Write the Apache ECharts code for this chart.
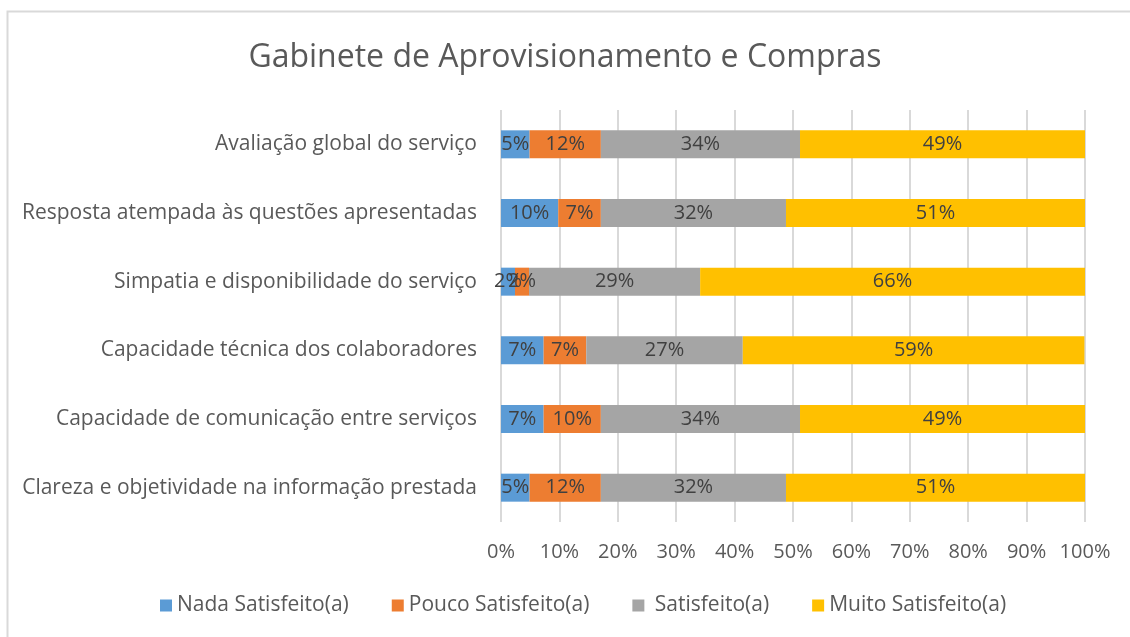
<!DOCTYPE html>
<html>
<head>
<meta charset="utf-8">
<style>
    html, body { margin: 0; padding: 0; background: #fff; }
    #chart { width: 1130px; height: 637px; }
</style>
<script src="https://cdn.jsdelivr.net/npm/echarts@6/dist/echarts.min.js"></script>
</head>
<body>
<div id="chart"></div>
<script>
    // categorias (de baixo para cima no eixo)
    var categorias = [
        'Clareza e objetividade na informação prestada',
        'Capacidade de comunicação entre serviços',
        'Capacidade técnica dos colaboradores',
        'Simpatia e disponibilidade do serviço',
        'Resposta atempada às questões apresentadas',
        'Avaliação global do serviço'
    ];
    var nadaSatisfeito  = [4.9, 7.3, 7.3, 2.4, 9.8, 4.9];
    var poucoSatisfeito = [12.2, 9.8, 7.3, 2.4, 7.3, 12.2];
    var satisfeito      = [31.7, 34.1, 26.8, 29.3, 31.7, 34.1];
    var muitoSatisfeito = [51.2, 48.8, 58.5, 65.9, 51.2, 48.8];
    var ticks = [0, 10, 20, 30, 40, 50, 60, 70, 80, 90, 100];

    var fonte = '"Open Sans", "Liberation Sans", sans-serif';
    var cores = ['#5b9bd5', '#ed7d31', '#a5a5a5', '#ffc000'];

    function serie(nome, dados, cor) {
        return {
            name: nome,
            type: 'bar',
            stack: 'total',
            barWidth: 28,
            data: dados,
            itemStyle: { color: cor },
            label: {
                show: true,
                position: 'inside',
                color: '#404040',
                fontFamily: fonte,
                fontSize: 20,
                formatter: function (p) { return Math.round(p.value) + '%'; }
            }
        };
    }

    var chart = echarts.init(document.getElementById('chart'));
    var option = {
        animation: false,
        backgroundColor: '#fff',
        title: {
            text: 'Gabinete de Aprovisionamento e Compras',
            left: 'center',
            top: 37,
            textStyle: {
                color: '#595959',
                fontFamily: fonte,
                fontWeight: 'normal',
                fontSize: 32
            }
        },
        graphic: [{
            type: 'polyline',
            shape: { points: [[7.5, 637], [7.5, 11.5], [1130, 11.5]] },
            style: { stroke: '#d9d9d9', lineWidth: 2, fill: null },
            silent: true
        }],
        legend: {
            bottom: 16,
            left: 155,
            itemWidth: 12,
            itemHeight: 12,
            itemGap: 43,
            icon: 'rect',
            textStyle: { color: '#595959', fontFamily: fonte, fontSize: 21 },
            formatter: function (n) { return n === 'Satisfeito(a)' ? ' ' + n : n; },
            data: ['Nada Satisfeito(a)', 'Pouco Satisfeito(a)', 'Satisfeito(a)', 'Muito Satisfeito(a)']
        },
        grid: {
            left: 501,
            right: 45,
            top: 110,
            bottom: 115,
            containLabel: false
        },
        xAxis: {
            type: 'value',
            min: ticks[0],
            max: ticks[ticks.length - 1],
            interval: 10,
            axisLine: { show: false },
            axisTick: { show: false },
            splitLine: { show: true, lineStyle: { color: '#d9d9d9', width: 2 } },
            axisLabel: {
                color: '#595959',
                fontFamily: fonte,
                fontSize: 20,
                margin: 20,
                formatter: function (v) { return v + '%'; }
            }
        },
        yAxis: {
            type: 'category',
            data: categorias,
            axisLine: { show: false },
            axisTick: { show: false },
            axisLabel: {
                color: '#595959',
                fontFamily: fonte,
                fontSize: 21,
                margin: 24
            }
        },
        series: [
            serie('Nada Satisfeito(a)', nadaSatisfeito, cores[0]),
            serie('Pouco Satisfeito(a)', poucoSatisfeito, cores[1]),
            serie('Satisfeito(a)', satisfeito, cores[2]),
            serie('Muito Satisfeito(a)', muitoSatisfeito, cores[3])
        ]
    };
    chart.setOption(option);
</script>
</body>
</html>
